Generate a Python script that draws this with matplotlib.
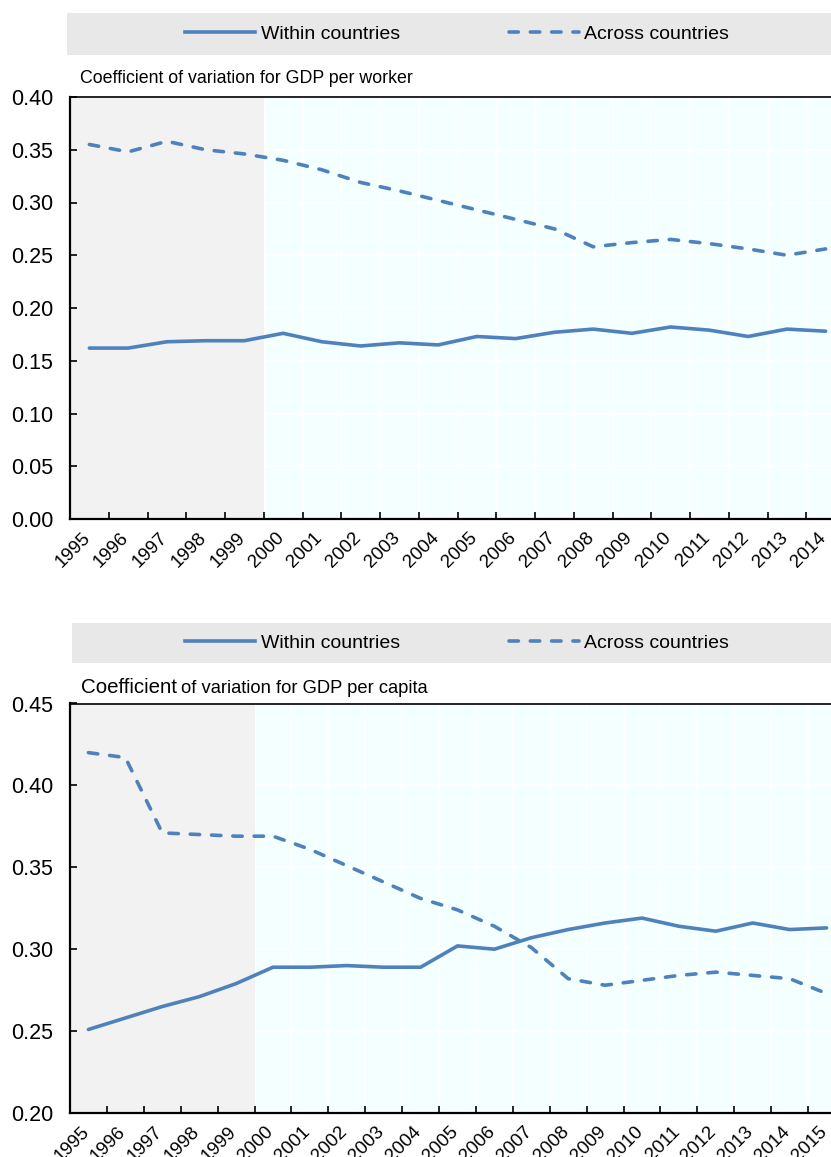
import matplotlib
matplotlib.use("Agg")
import matplotlib.pyplot as plt
from matplotlib.lines import Line2D
import numpy as np

plt.rcParams['font.family'] = ['Liberation Sans', 'DejaVu Sans']

# ---------------- data ----------------
years_worker = ["1995", "1996", "1997", "1998", "1999", "2000", "2001", "2002", "2003", "2004",
                "2005", "2006", "2007", "2008", "2009", "2010", "2011", "2012", "2013", "2014"]
within_worker = [0.162, 0.162, 0.168, 0.169, 0.169, 0.176, 0.168, 0.164, 0.167, 0.165,
                 0.173, 0.171, 0.177, 0.180, 0.176, 0.182, 0.179, 0.173, 0.180, 0.178]
across_worker = [0.355, 0.348, 0.358, 0.350, 0.346, 0.340, 0.331, 0.319, 0.311, 0.302,
                 0.293, 0.284, 0.275, 0.258, 0.262, 0.265, 0.261, 0.256, 0.250, 0.256]

years_capita = ["1995", "1996", "1997", "1998", "1999", "2000", "2001", "2002", "2003", "2004",
                "2005", "2006", "2007", "2008", "2009", "2010", "2011", "2012", "2013", "2014", "2015"]
within_capita = [0.251, 0.258, 0.265, 0.271, 0.279, 0.289, 0.289, 0.290, 0.289, 0.289,
                 0.302, 0.300, 0.307, 0.312, 0.316, 0.319, 0.314, 0.311, 0.316, 0.312, 0.313]
across_capita = [0.420, 0.417, 0.371, 0.370, 0.369, 0.369, 0.361, 0.351, 0.341, 0.331,
                 0.324, 0.314, 0.301, 0.282, 0.278, 0.281, 0.284, 0.286, 0.284, 0.282, 0.273]

series_labels = ["Within countries", "Across countries"]
titles = ["Coefficient of variation for GDP per worker",
          ("Coefficient", "of variation for GDP per capita")]
yticks_worker = [0.00, 0.05, 0.10, 0.15, 0.20, 0.25, 0.30, 0.35, 0.40]
yticks_capita = [0.20, 0.25, 0.30, 0.35, 0.40, 0.45]
n_shaded = 5  # 1995-1999 shaded grey

# ---------------- style ----------------
W, H = 831, 1157
BLUE = "#4F81BD"
GREY_BG = "#F2F2F2"
CYAN_BG = "#F4FFFF"
LEG_BG = "#E8E8E8"
LW = 2.6
DASH = (2.6, 3.3)

fig = plt.figure(figsize=(W / 100, H / 100), dpi=100)


def fx(px):
    return px / W


def fy(py):
    return 1 - py / H


def legend_band(x0, x1, y0, y1, cx):
    axl = fig.add_axes([fx(x0), fy(y1), fx(x1 - x0), (y1 - y0) / H])
    axl.set_facecolor(LEG_BG)
    for s in axl.spines.values():
        s.set_visible(False)
    axl.set_xticks([])
    axl.set_yticks([])
    handles = [
        Line2D([], [], color=BLUE, lw=LW),
        Line2D([], [], color=BLUE, lw=LW, dashes=DASH, dash_capstyle='round'),
    ]
    fig.legend(handles, series_labels, ncol=2, loc='center',
               bbox_to_anchor=(fx(cx), fy((y0 + y1) / 2)), frameon=False,
               fontsize=14, handlelength=3.6, handletextpad=0.3,
               columnspacing=5.6)


def panel(rect, cats, within, across, yticks, ylim):
    ax = fig.add_axes(rect)
    n = len(cats)
    x = np.arange(n)
    ax.set_facecolor(CYAN_BG)
    ax.set_xlim(-0.5, n - 0.5)
    ax.set_ylim(*ylim)
    # white grid in the unshaded region
    for b in np.arange(n_shaded - 0.5, n - 0.5, 1.0):
        ax.axvline(b, color='white', lw=1.3, zorder=0.6)
    for t in yticks:
        ax.axhline(t, color='white', lw=1.3, zorder=0.6)
    ax.axvspan(-0.5, n_shaded - 0.5, color=GREY_BG, lw=0, zorder=0.8)
    ax.plot(x, within, color=BLUE, lw=LW, solid_capstyle='round',
            solid_joinstyle='round', zorder=3)
    ax.plot(x, across, color=BLUE, lw=LW, dashes=DASH, dash_capstyle='round',
            dash_joinstyle='round', zorder=3)
    ax.set_yticks(yticks)
    ax.set_yticklabels([f"{t:.2f}" for t in yticks], fontsize=15.5)
    ax.set_xticks(x)
    ax.set_xticklabels(cats, rotation=45, ha='right', va='top',
                       rotation_mode='anchor', fontsize=13.5)
    ax.set_xticks(np.arange(-0.5, n - 0.4, 1.0), minor=True)
    ax.tick_params(axis='x', which='major', length=0, pad=7.5)
    ax.tick_params(axis='x', which='minor', direction='in', length=5, width=1.2)
    ax.tick_params(axis='y', direction='in', length=5, width=1.2, pad=12)
    for lab in ax.get_xticklabels():
        lab.set_transform(lab.get_transform() +
                          matplotlib.transforms.ScaledTranslation(-0.08, 0, fig.dpi_scale_trans))
    ax.spines['right'].set_visible(False)
    for s in ['left', 'bottom']:
        ax.spines[s].set_linewidth(1.6)
        ax.spines[s].set_zorder(4)
    ax.spines['top'].set_linewidth(1.2)
    return ax


# ---------------- top panel ----------------
legend_band(67, W, 13, 55, 457)
fig.text(fx(80), fy(83), titles[0], fontsize=12.8, va='baseline')
panel([fx(70), fy(519), fx(775), 422 / H], years_worker, within_worker, across_worker,
      yticks_worker, (0.0, 0.40))

# ---------------- bottom panel ----------------
legend_band(72, W, 623, 663, 457)
fig.text(fx(81), fy(693), titles[1][0], fontsize=14.8, va='baseline')
fig.text(fx(181), fy(693), titles[1][1], fontsize=13.2, va='baseline')
panel([fx(70), fy(1113), fx(775), 409.5 / H], years_capita, within_capita, across_capita,
      yticks_capita, (0.20, 0.45))

fig.savefig("out.png", dpi=100)
